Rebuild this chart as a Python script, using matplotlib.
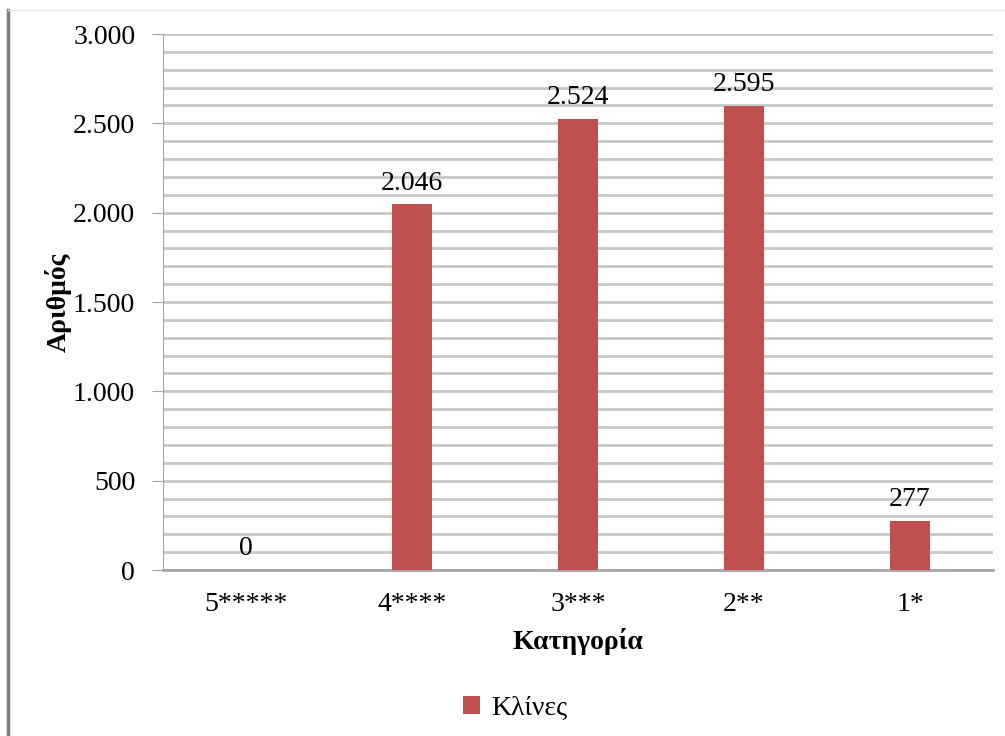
import matplotlib
matplotlib.use("Agg")
import matplotlib.pyplot as plt
from matplotlib.ticker import MultipleLocator, FuncFormatter
from matplotlib.patches import Patch
from matplotlib.lines import Line2D

categories = ["5*****", "4****", "3***", "2**", "1*"]
values = [0, 2046, 2524, 2595, 277]
series_name = "Κλίνες"
y_label = "Αριθμός"
x_label = "Κατηγορία"

plt.rcParams['font.family'] = ['Liberation Serif', 'DejaVu Serif']

fig = plt.figure(figsize=(10.05, 7.36), dpi=100)
ax = fig.add_axes([163/1005, 1 - 570/736, (993-163)/1005, (570-34)/736])

bar_color = "#C0504D"
x = list(range(len(categories)))
bars = ax.bar(x, values, width=0.24, color=bar_color, zorder=3)

ax.set_xlim(-0.5, len(categories) - 0.5)
ax.set_ylim(0, 3000)
ax.yaxis.set_major_locator(MultipleLocator(500))
ax.yaxis.set_minor_locator(MultipleLocator(100))
ax.yaxis.set_major_formatter(FuncFormatter(lambda v, p: f"{int(v):,}".replace(",", ".")))
ax.grid(axis='y', which='both', color='#C8C8C8', linewidth=2.0, zorder=0)
ax.set_axisbelow(True)

for s in ['top', 'right']:
    ax.spines[s].set_visible(False)
ax.spines['left'].set_color('#A6A6A6')
ax.spines['bottom'].set_color('#A6A6A6')
ax.spines['bottom'].set_linewidth(2.0)
ax.tick_params(axis='y', which='major', length=8, color='#A6A6A6', labelsize=20, pad=12)
ax.tick_params(axis='y', which='minor', length=0)
ax.tick_params(axis='x', length=0, labelsize=20, pad=16)
ax.set_xticks(x)
ax.set_xticklabels(categories)

for xi, v in zip(x, values):
    ax.text(xi, v + 50, f"{v:,}".replace(",", "."), ha='center', va='bottom', fontsize=20)

ax.set_ylabel(y_label, fontsize=20, fontweight='bold', labelpad=1)
ax.set_xlabel(x_label, fontsize=20, fontweight='bold', labelpad=8)

handles = [Patch(facecolor=bar_color, label=series_name)]
fig.legend(handles=handles, loc='center', bbox_to_anchor=(515/1005, 1 - 708/736),
           frameon=False, fontsize=20, handlelength=0.6, handleheight=0.6, handletextpad=0.4)

# frame lines of the chart area
fig.add_artist(Line2D([8/1005, 8/1005], [0, 1 - 10/736], color='#7F7F7F', linewidth=2.5))
fig.add_artist(Line2D([8/1005, 1], [1 - 10/736, 1 - 10/736], color='#E6E6E6', linewidth=1))

fig.savefig("out.png", dpi=100)
